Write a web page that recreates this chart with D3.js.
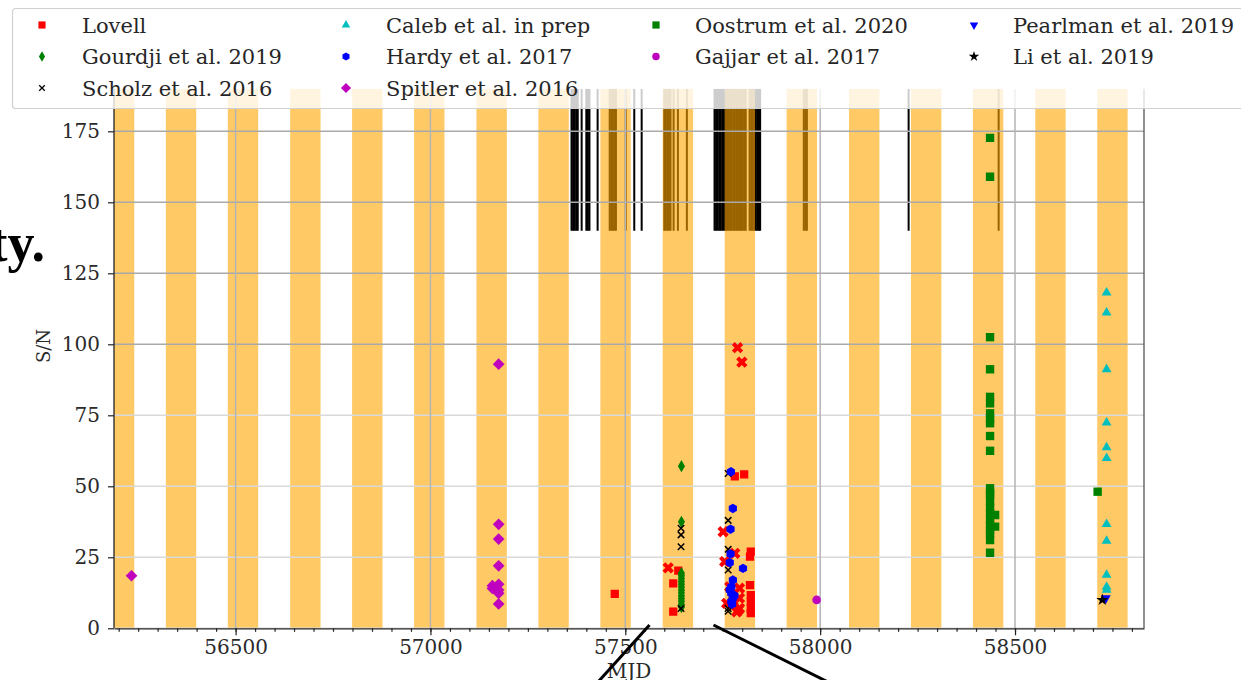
<!DOCTYPE html>
<html>
<head>
<meta charset="utf-8">
<script src="https://cdn.jsdelivr.net/npm/d3@7"></script>
<style>
  html, body { margin: 0; padding: 0; background: #fff; }
  svg { display: block; }
</style>
</head>
<body>
<svg id="chart" width="1241" height="680"></svg>
<script>
// Predicted activity windows (start MJD) and their length in days
const windowStarts = [56162, 56321, 56480, 56640, 56799, 56958, 57118, 57277, 57436,
                      57596, 57755, 57914, 58074, 58233, 58392, 58552, 58711];
const windowLength = 78;

// Lovell observing epochs (MJD), drawn as ticks above S/N = obsFloor
const observations = [57362, 57366, 57370, 57374, 57378, 57388, 57400, 57404, 57408, 57429,
  57460, 57464, 57468, 57472, 57476, 57501, 57523, 57542,
  57600, 57604, 57608, 57612, 57616, 57624, 57635, 57658,
  57729, 57733, 57737, 57741, 57745, 57749, 57753, 57757, 57761, 57765, 57769, 57773,
  57777, 57781, 57785, 57789, 57793, 57797, 57801, 57805, 57809, 57819, 57823,
  57827, 57831, 57835, 57839, 57843, 57846,
  57958, 57962, 57966, 58227, 58458];
const obsFloor = 140;

// Bursts: [MJD, S/N]
const lovell = [[57473, 12.1], [57636, 20.3], [57623, 15.8], [57623, 5.9],
  [57781, 53.5], [57805, 54.2], [57822, 27.0], [57820, 25.2], [57820, 15.2],
  [57822, 11.7], [57822, 9.4], [57822, 7.0], [57822, 5.3]];
const lovellSingle = [[57610, 21.3], [57788, 98.8], [57799, 93.7], [57751, 34.0],
  [57781, 26.4], [57755, 23.5], [57793, 14.1], [57793, 10.6], [57793, 7.0],
  [57768, 14.6], [57760, 8.8], [57786, 5.8], [57790, 6.5], [57777, 9.5]];
const gourdji = [[57644, 57.1], [57644, 37.5], [57644, 19.4], [57644, 18.5], [57644, 17.5],
  [57644, 16.5], [57644, 15.5], [57644, 14.5], [57644, 13.5], [57644, 12.5],
  [57644, 11.5], [57644, 10.5], [57644, 9.5], [57644, 8.5], [57644, 7.5]];
const scholz = [[57643, 35.2], [57643, 32.9], [57643, 28.7], [57643, 7.0],
  [57764, 54.5], [57764, 38.0], [57764, 27.8], [57764, 20.5], [57764, 7.0], [57764, 6.0]];
const caleb = [[58735, 118.2], [58735, 111.1], [58735, 91.2], [58735, 72.4], [58735, 63.7],
  [58735, 59.9], [58735, 36.7], [58735, 30.8], [58735, 18.8], [58735, 14.6], [58735, 13.5]];
const hardy = [[57771, 55.1], [57776, 42.2], [57770, 34.9], [57770, 26.2], [57768, 23.1],
  [57802, 21.1], [57776, 17.0], [57772, 14.6], [57768, 13.5], [57772, 12.3],
  [57780, 11.5], [57776, 10.6], [57772, 9.4], [57774, 8.5]];
const spitler = [[56233, 18.5], [57159, 15.0], [57159, 14.0], [57175, 93.0], [57175, 36.6],
  [57175, 31.4], [57175, 22.0], [57175, 15.5], [57175, 13.5], [57175, 12.3], [57175, 8.6]];
const oostrum = [[58436, 172.7], [58436, 159.0], [58436, 102.5], [58436, 91.2], [58436, 81.5],
  [58436, 79.2], [58436, 75.7], [58436, 73.9], [58436, 72.2], [58436, 67.7], [58436, 62.5],
  [58436, 49.3], [58436, 47.5], [58436, 46.9], [58436, 44.6], [58436, 42.5], [58436, 40.5],
  [58449, 39.9], [58436, 38.1], [58436, 36.5], [58449, 35.8], [58436, 34.5], [58436, 33.5],
  [58436, 31.1], [58436, 26.6], [58712, 48.1]];
const gajjar = [[57991, 10.0]];
const pearlman = [[58733, 10.6]];
const li = [[58724, 10.0]];

const xTicks = [56500, 57000, 57500, 58000, 58500];
const xMinorTicks = d3.range(56200, 58801, 50);
const yTicks = [0, 25, 50, 75, 100, 125, 150, 175];

const legendLabels = ["Lovell", "Gourdji et al. 2019", "Scholz et al. 2016",
  "Caleb et al. in prep", "Hardy et al. 2017", "Spitler et al. 2016",
  "Oostrum et al. 2020", "Gajjar et al. 2017", "Pearlman et al. 2019", "Li et al. 2019"];

// ---------------------------------------------------------------
const svg = d3.select("#chart");
const serif = "'DejaVu Serif', serif";

const x = d3.scaleLinear().domain([56188, 58831]).range([114, 1144]);
const y = d3.scaleLinear().domain([0, 190]).range([628.3, 88.7]);
const [x0, x1] = x.range();
const [yb, yt] = y.range();

// marker shapes
const hexagon = { draw(ctx, size) {
  const r = Math.sqrt(size / 2.598);
  for (let i = 0; i < 6; i++) {
    const a = Math.PI / 6 + i * Math.PI / 3;
    i ? ctx.lineTo(r * Math.cos(a), r * Math.sin(a)) : ctx.moveTo(r * Math.cos(a), r * Math.sin(a));
  }
  ctx.closePath();
}};
const thinX = { draw(ctx, size) {
  const r = Math.sqrt(size) / 2;
  ctx.moveTo(-r, -r); ctx.lineTo(r, r); ctx.moveTo(-r, r); ctx.lineTo(r, -r);
}};

const styles = {
  lovell:       { type: d3.symbolSquare,   size: 68, fill: "#ff0000" },
  lovellSingle: { type: d3.symbolCross,    size: 80, fill: "#ff0000", rot: 45 },
  gourdji:      { type: d3.symbolDiamond,  size: 44, fill: "#008000" },
  scholz:       { type: thinX,             size: 42, stroke: "#000000" },
  caleb:        { type: d3.symbolTriangle, size: 42, fill: "#00bfbf" },
  hardy:        { type: hexagon,           size: 58, fill: "#0000ff" },
  spitler:      { type: d3.symbolSquare,   size: 68, fill: "#bf00bf", rot: 45 },
  oostrum:      { type: d3.symbolSquare,   size: 70, fill: "#008000" },
  gajjar:       { type: d3.symbolCircle,   size: 58, fill: "#bf00bf" },
  pearlman:     { type: d3.symbolTriangle, size: 42, fill: "#0000ff", rot: 180 },
  li:           { type: d3.symbolStar,     size: 46, fill: "#000000" }
};

// slide text to the left of the figure
svg.append("text")
  .attr("x", 45).attr("y", 261)
  .attr("text-anchor", "end")
  .style("font-family", "'Liberation Serif', serif")
  .style("font-size", "54px").style("font-weight", "bold")
  .style("fill", "#000")
  .text("ty.");

svg.append("clipPath").attr("id", "plotClip")
  .append("rect").attr("x", x0).attr("y", yt).attr("width", x1 - x0).attr("height", yb - yt);

const plot = svg.append("g").attr("clip-path", "url(#plotClip)");

// observing epochs
plot.append("g").selectAll("line").data(observations).join("line")
  .attr("x1", d => x(d)).attr("x2", d => x(d))
  .attr("y1", y(obsFloor)).attr("y2", yt)
  .attr("stroke", "#000").attr("stroke-width", 2);

// activity windows
plot.append("g").selectAll("rect").data(windowStarts).join("rect")
  .attr("x", d => x(d)).attr("width", d => x(d + windowLength) - x(d))
  .attr("y", yt).attr("height", yb - yt)
  .attr("fill", "#ffa500").attr("fill-opacity", 0.6);

// grid
plot.append("g").selectAll("line").data(yTicks).join("line")
  .attr("x1", x0).attr("x2", x1)
  .attr("y1", d => y(d)).attr("y2", d => y(d))
  .attr("stroke", d => d >= 100 ? "#a9a9a9" : "#d9d9d9").attr("stroke-width", 1.5);
plot.append("g").selectAll("line").data(xTicks).join("line")
  .attr("x1", d => x(d)).attr("x2", d => x(d))
  .attr("y1", yt).attr("y2", yb)
  .attr("stroke", "#b4b4b4").attr("stroke-width", 1.5);

// right spine
svg.append("line").attr("x1", x1).attr("x2", x1).attr("y1", yt).attr("y2", yb)
  .attr("stroke", "#555").attr("stroke-width", 1.3);

// axes
const xAxis = svg.append("g").attr("transform", `translate(0,${yb})`)
  .call(d3.axisBottom(x).tickValues(xTicks).tickSize(7).tickSizeOuter(0).tickPadding(5).tickFormat(d3.format("d")));
const xMinor = svg.append("g").attr("transform", `translate(0,${yb})`)
  .call(d3.axisBottom(x).tickValues(xMinorTicks).tickSize(3.5).tickSizeOuter(0).tickFormat(""));
xMinor.select(".domain").remove();
const yAxis = svg.append("g").attr("transform", `translate(${x0},0)`)
  .call(d3.axisLeft(y).tickValues(yTicks).tickSize(6).tickSizeOuter(0).tickPadding(8));
yAxis.select(".domain").attr("d", `M0,${yt}V${yb}`);

[xAxis, xMinor, yAxis].forEach(g => {
  g.selectAll(".domain").attr("stroke", "#222").attr("stroke-width", 1.3);
  g.selectAll(".tick line").attr("stroke", "#222").attr("stroke-width", 1.2);
  g.selectAll("text").style("font-family", serif).style("font-size", "20px").style("fill", "#2a2a2a");
});

// bursts
function drawSeries(data, st) {
  const sym = d3.symbol().type(st.type).size(st.size);
  plot.append("g").selectAll("path").data(data).join("path")
    .attr("transform", d => `translate(${x(d[0])},${y(d[1])})` + (st.rot ? ` rotate(${st.rot})` : ""))
    .attr("d", sym)
    .attr("fill", st.fill || "none")
    .attr("stroke", st.stroke || "none")
    .attr("stroke-width", st.stroke ? 1.5 : 0);
}
drawSeries(lovell, styles.lovell);
drawSeries(lovellSingle, styles.lovellSingle);
drawSeries(gourdji, styles.gourdji);
drawSeries(scholz, styles.scholz);
drawSeries(caleb, styles.caleb);
drawSeries(hardy, styles.hardy);
drawSeries(spitler, styles.spitler);
drawSeries(oostrum, styles.oostrum);
drawSeries(gajjar, styles.gajjar);
drawSeries(pearlman, styles.pearlman);
drawSeries(li, styles.li);

// legend: four columns filled top to bottom (3, 3, 2, 2 entries)
const legendKeys = ["lovell", "gourdji", "scholz", "caleb", "hardy", "spitler",
                    "oostrum", "gajjar", "pearlman", "li"];
const legendCol = [0, 0, 0, 1, 1, 1, 2, 2, 3, 3];
const legendRow = [0, 1, 2, 0, 1, 2, 0, 1, 0, 1];
const colMarker = [42, 346, 656, 974];
const colText = [82, 386, 695, 1013];
const rowY = [25, 56.5, 88];
const legend = svg.append("g");
legend.append("rect")
  .attr("x", 12.5).attr("y", 8.5).attr("width", 1260).attr("height", 100).attr("rx", 3)
  .attr("fill", "#fff").attr("fill-opacity", 0.8)
  .attr("stroke", "#d0d0d0").attr("stroke-width", 1.2);
legendKeys.forEach((k, i) => {
  const col = legendCol[i], row = legendRow[i];
  const st = styles[k];
  const small = d3.symbol().type(st.type).size(st.size * 0.75);
  legend.append("path")
    .attr("transform", `translate(${colMarker[col]},${rowY[row]})` + (st.rot ? ` rotate(${st.rot})` : ""))
    .attr("d", small)
    .attr("fill", st.fill || "none")
    .attr("stroke", st.stroke || "none")
    .attr("stroke-width", st.stroke ? 1.3 : 0);
  legend.append("text")
    .attr("x", colText[col]).attr("y", rowY[row]).attr("dy", "0.36em")
    .style("font-family", serif).style("font-size", "21px").style("fill", "#262626")
    .text(legendLabels[i]);
});

// axis labels
svg.append("text")
  .attr("transform", `translate(50,346) rotate(-90)`)
  .attr("text-anchor", "middle")
  .style("font-family", serif).style("font-size", "18px").style("fill", "#2a2a2a")
  .text("S/N");
svg.append("text")
  .attr("x", 629).attr("y", 678)
  .attr("text-anchor", "middle")
  .style("font-family", serif).style("font-size", "20px").style("fill", "#2a2a2a")
  .text("MJD");

// pointer lines from the slide
svg.append("line").attr("x1", 649.5).attr("y1", 625).attr("x2", 598).attr("y2", 682)
  .attr("stroke", "#000").attr("stroke-width", 3);
svg.append("line").attr("x1", 713.5).attr("y1", 625).attr("x2", 828).attr("y2", 682)
  .attr("stroke", "#000").attr("stroke-width", 3);
</script>
</body>
</html>
